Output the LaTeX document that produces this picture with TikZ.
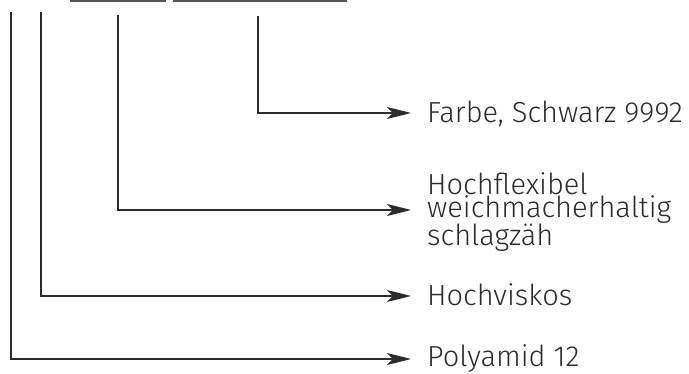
\documentclass[tikz,border=0pt]{standalone}
\usepackage{fontspec}
\setmainfont{Fira Sans}[UprightFont=* Light]
\usetikzlibrary{arrows.meta}
\definecolor{ink}{HTML}{2B2B2B}
\tikzset{
  conn/.style={draw=ink, line width=1.3pt, -{Stealth[length=24pt,width=12pt,inset=6pt]}},
  stem/.style={draw=ink, line width=1.3pt},
  bar/.style={draw=ink!80, line width=2.2pt},
  lbl/.style={anchor=base west, inner sep=0pt, text=ink, font=\fontsize{29}{23}\selectfont},
}
\begin{document}
\begin{tikzpicture}[x=1pt,y=-1pt]
\useasboundingbox (0,0) rectangle (689,374);
% top bars
\coordinate (b1l) at (70,1);
\coordinate (b1r) at (166,1);
\coordinate (b2l) at (173,1);
\coordinate (b2r) at (347,1);
\draw[bar] (b1l) -- (b1r);
\draw[bar] (b2l) -- (b2r);
% stems
\coordinate (s1) at (11,12);
\coordinate (s2) at (41,12);
\coordinate (s3) at (118,15);
\coordinate (s4) at (258,16);
% arrow tips
\coordinate (t4) at (411,113);
\coordinate (t3) at (411,210);
\coordinate (t2) at (411,296);
\coordinate (t1) at (411,359);
% labels
\node[lbl] (farbe) at (427,123) {Farbe, Schwarz 9992};
\node[lbl, align=left, anchor=west] (flex) at (427,212) {Hochflexibel\\weichmacherhaltig\\schlagzäh};
\node[lbl] (visk) at (427,306) {Hochviskos};
\node[lbl] (poly) at (427,367) {Polyamid 12};
% connectors
\draw[conn] (s4) |- (t4);
\draw[conn] (s3) |- (t3);
\draw[conn] (s2) |- (t2);
\draw[conn] (s1) |- (t1);
\end{tikzpicture}
\end{document}
